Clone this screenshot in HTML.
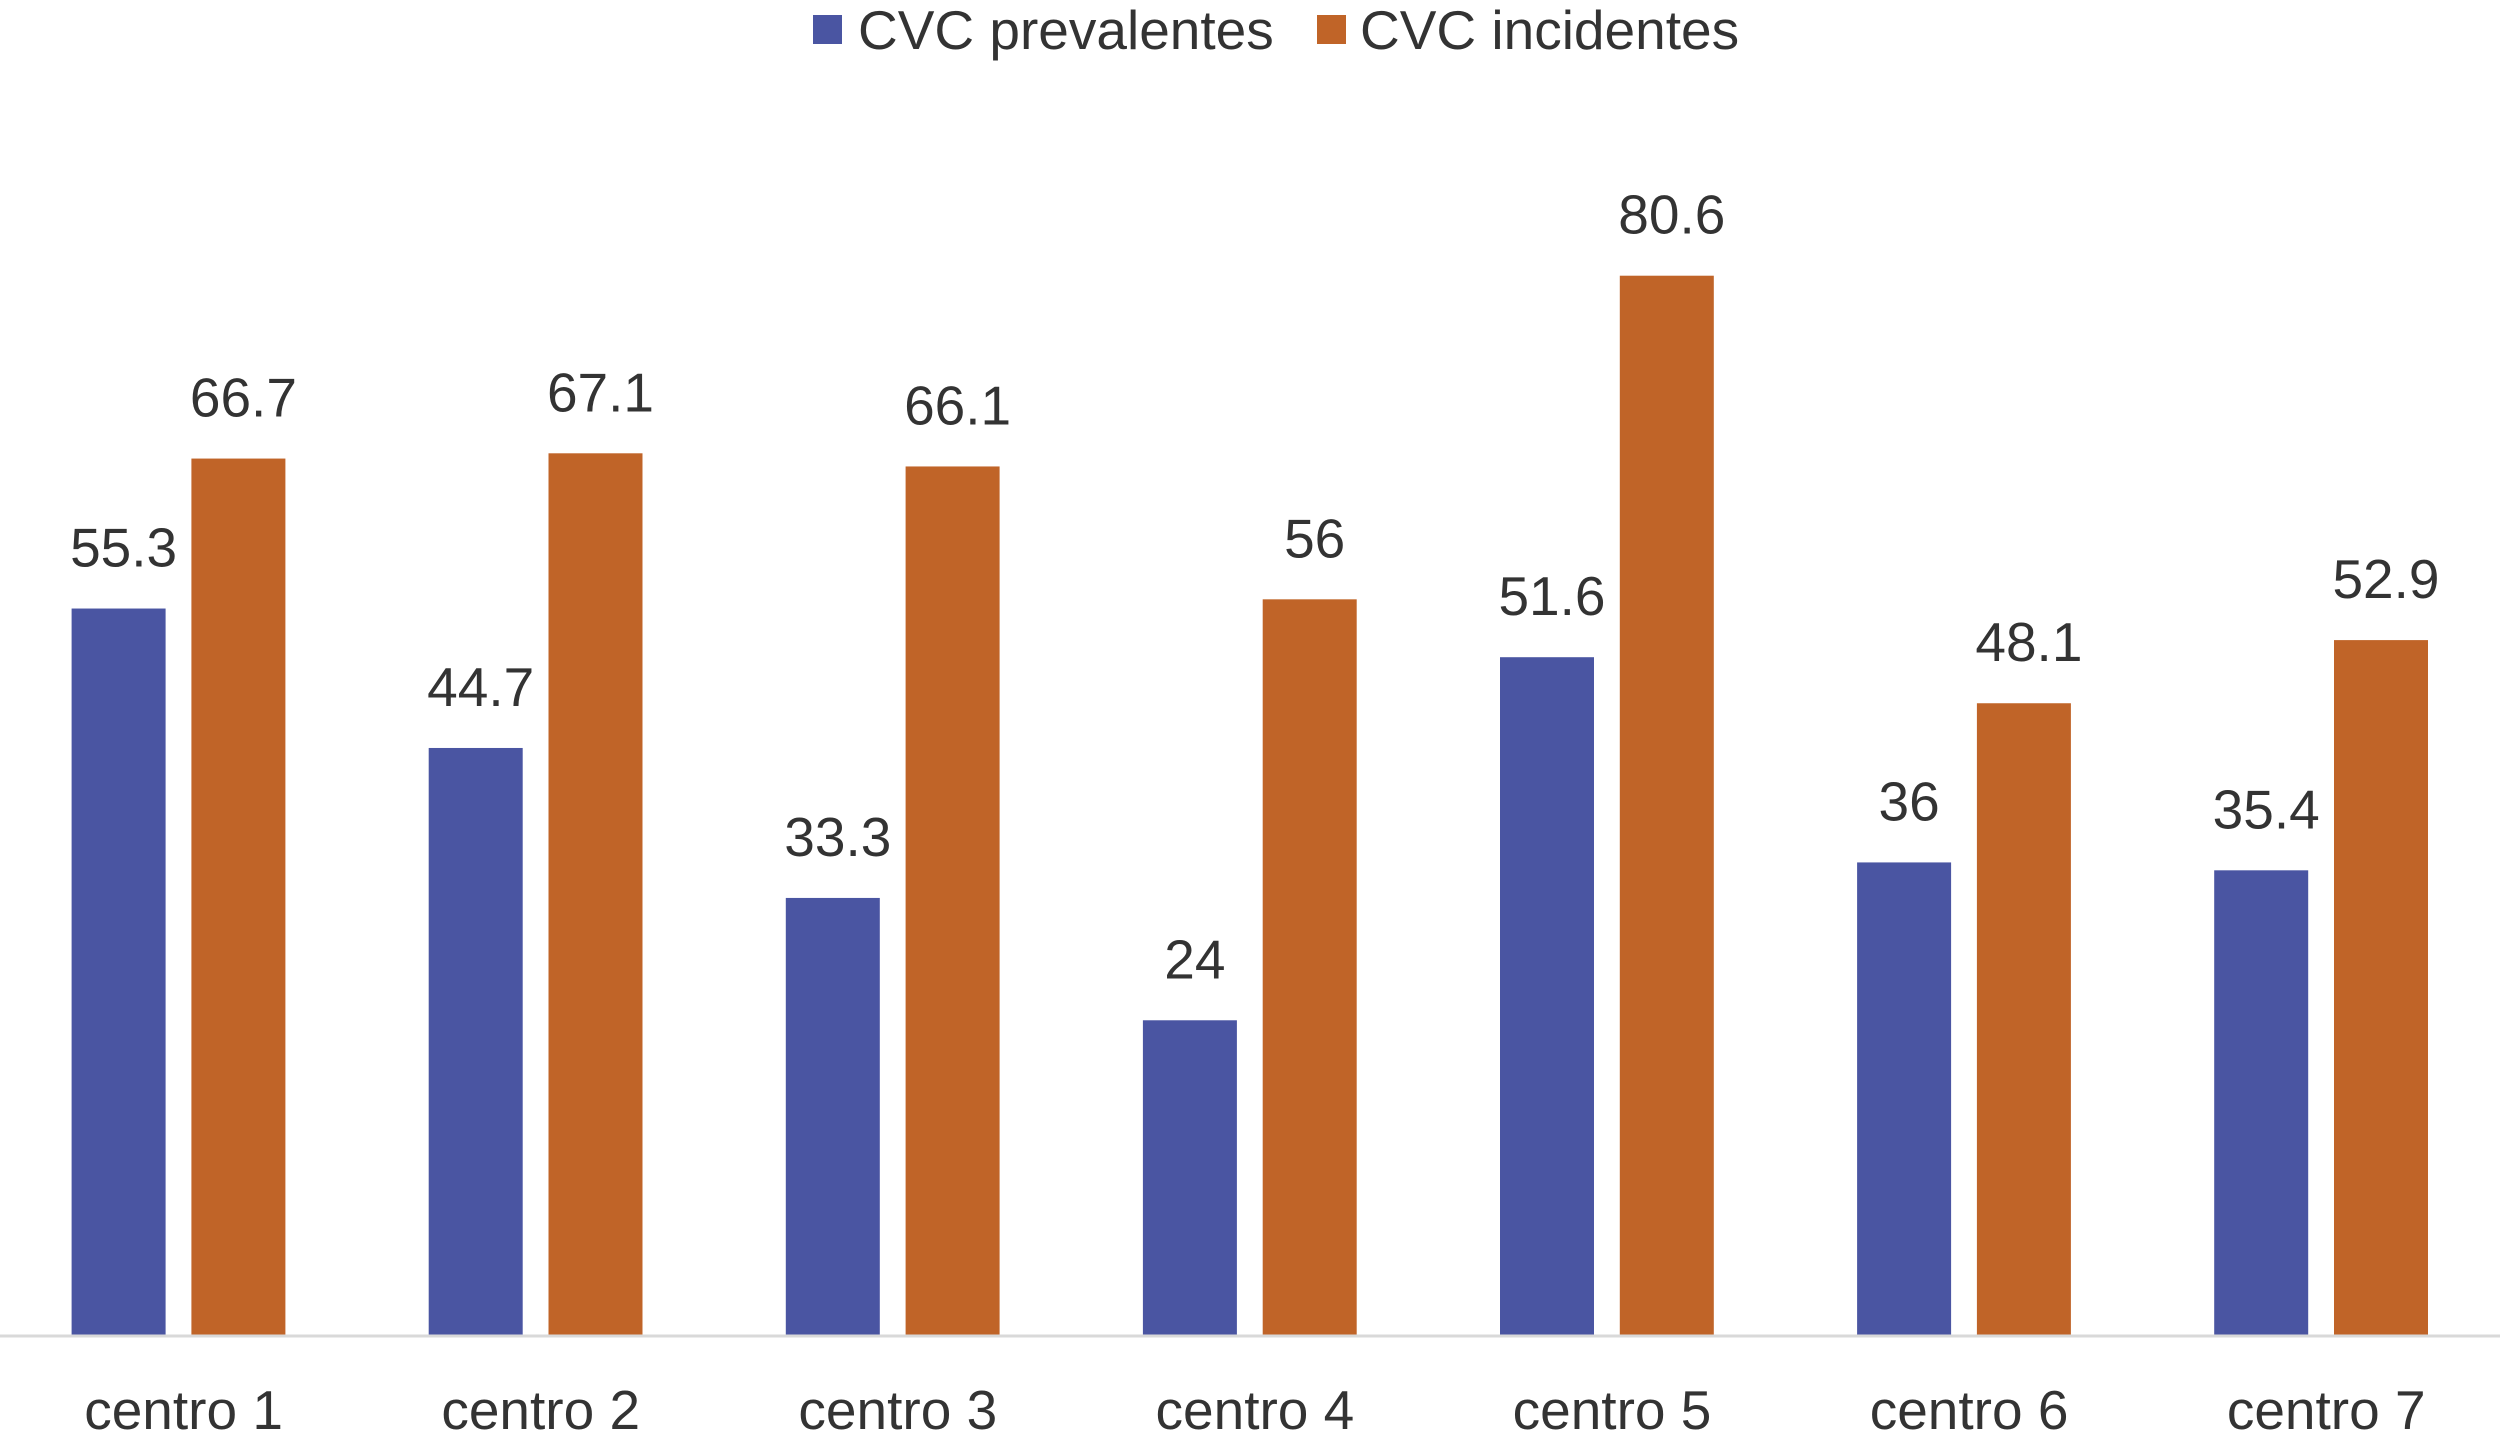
<!DOCTYPE html>
<html><head><meta charset="utf-8"><style>
html,body{margin:0;padding:0;background:#fff;}
svg{display:block;font-family:"Liberation Sans",Arial,sans-serif;}
</style></head><body>
<svg id="chart" width="2500" height="1439" viewBox="0 0 2500 1439">
<g id="legend">
<rect x="813" y="15" width="29" height="29" fill="#4a55a2"/>
<text x="858" y="49" font-size="55" fill="#333">CVC prevalentes</text>
<rect x="1317" y="15" width="29" height="29" fill="#c06428"/>
<text x="1360" y="49" font-size="55" fill="#333">CVC incidentes</text>
</g>
<g id="bars"></g>
<line x1="0" y1="1336" x2="2500" y2="1336" stroke="#d9d9d9" stroke-width="3"/>
<g id="xlabels"></g>
</svg>
<script>
const categories = ["centro 1","centro 2","centro 3","centro 4","centro 5","centro 6","centro 7"];
const prevalentes = [55.3,44.7,33.3,24,51.6,36,35.4];
const incidentes = [66.7,67.1,66.1,56,80.6,48.1,52.9];
const valueLabelsPrev = ["55.3","44.7","33.3","24","51.6","36","35.4"];
const valueLabelsInc = ["66.7","67.1","66.1","56","80.6","48.1","52.9"];

const NS = "http://www.w3.org/2000/svg";
const baseY = 1336, pxPerUnit = 13.155;
const x0 = 178.6, step = 357.1, bw = 94;
function yScale(v){ return baseY - v*pxPerUnit; }
function xCenter(i){ return x0 + i*step; }
const bars = document.getElementById('bars');
const xl = document.getElementById('xlabels');
function mk(tag, attrs){ const e=document.createElementNS(NS,tag); for(const k in attrs) e.setAttribute(k,attrs[k]); return e; }
categories.forEach((c,i)=>{
  const cx = xCenter(i);
  [[prevalentes,valueLabelsPrev,"#4a55a2",cx-107,"prevalentes"],[incidentes,valueLabelsInc,"#c06428",cx+12.8,"incidentes"]].forEach(s=>{
    const v = s[0][i], y = yScale(v);
    const r = mk('rect',{x:s[3],y:y,width:bw,height:baseY-y,fill:s[2]});
    
    
    bars.appendChild(r);
    const t = mk('text',{x:s[3]+bw/2+5,y:y-42,'font-size':55,fill:'#333','text-anchor':'middle'});
    t.textContent = s[1][i];
    
    
    bars.appendChild(t);
  });
  const t = mk('text',{x:cx+5,y:1429,'font-size':55,fill:'#333','text-anchor':'middle'});
  t.textContent = c;
  
  
  xl.appendChild(t);
});
</script>
</body></html>
